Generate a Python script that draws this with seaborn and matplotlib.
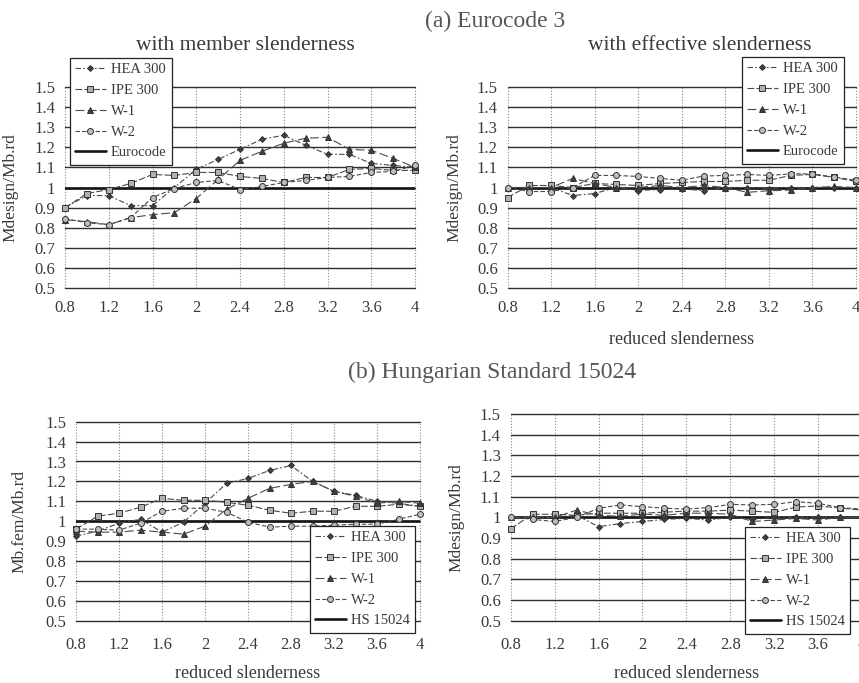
import matplotlib
matplotlib.use("Agg")
import matplotlib.pyplot as plt
import pandas as pd
import seaborn as sns

# ---------------- data ----------------
slenderness = [0.8, 1.0, 1.2, 1.4, 1.6, 1.8, 2.0, 2.2, 2.4, 2.6, 2.8, 3.0, 3.2, 3.4, 3.6, 3.8, 4.0]
series_names = ["HEA 300", "IPE 300", "W-1", "W-2"]

# (a) Eurocode 3 - member slenderness
hea_a1 = [0.90, 0.96, 0.96, 0.91, 0.91, 1.00, 1.09, 1.14, 1.19, 1.24, 1.26, 1.21, 1.165, 1.165, 1.12, 1.11, 1.10]
ipe_a1 = [0.90, 0.97, 0.99, 1.02, 1.065, 1.06, 1.075, 1.075, 1.055, 1.045, 1.025, 1.05, 1.05, 1.09, 1.095, 1.085, 1.085]
w1_a1 = [0.84, 0.83, 0.815, 0.85, 0.865, 0.875, 0.945, 1.04, 1.135, 1.18, 1.22, 1.245, 1.25, 1.19, 1.185, 1.145, 1.10]
w2_a1 = [0.845, 0.825, 0.815, 0.85, 0.95, 0.995, 1.025, 1.035, 0.99, 1.005, 1.025, 1.035, 1.05, 1.055, 1.075, 1.08, 1.11]

# (a) Eurocode 3 - effective slenderness
hea_a2 = [1.0, 1.0, 1.0, 0.96, 0.97, 1.0, 0.985, 0.99, 0.992, 0.985, 1.0, 1.0, 0.995, 1.0, 1.0, 1.0, 1.0]
ipe_a2 = [0.95, 1.01, 1.01, 1.0, 1.02, 1.015, 1.01, 1.02, 1.025, 1.03, 1.03, 1.036, 1.036, 1.06, 1.065, 1.05, 1.03]
w1_a2 = [1.0, 1.0, 1.0, 1.045, 1.02, 1.0, 1.0, 1.01, 1.0, 1.01, 1.0, 0.976, 0.984, 0.987, 1.0, 1.005, 1.0]
w2_a2 = [1.0, 0.98, 0.98, 1.0, 1.06, 1.06, 1.055, 1.045, 1.036, 1.057, 1.06, 1.065, 1.06, 1.068, 1.068, 1.052, 1.036]

# (b) Hungarian Standard 15024 - member slenderness
hea_b1 = [0.925, 0.95, 0.99, 1.01, 0.945, 0.995, 1.09, 1.19, 1.215, 1.255, 1.28, 1.20, 1.15, 1.13, 1.10, 1.09, 1.075]
ipe_b1 = [0.96, 1.025, 1.04, 1.07, 1.115, 1.105, 1.105, 1.095, 1.08, 1.055, 1.04, 1.05, 1.05, 1.075, 1.075, 1.085, 1.075]
w1_b1 = [0.95, 0.945, 0.945, 0.955, 0.945, 0.935, 0.975, 1.06, 1.115, 1.165, 1.185, 1.20, 1.15, 1.125, 1.09, 1.10, 1.09]
w2_b1 = [0.96, 0.96, 0.955, 0.99, 1.05, 1.065, 1.065, 1.045, 0.995, 0.97, 0.975, 0.975, 0.98, 0.985, 0.985, 1.01, 1.035]

# (b) Hungarian Standard 15024 - effective slenderness
hea_b2 = [1.0, 1.0, 1.0, 1.01, 0.955, 0.97, 0.98, 0.99, 0.995, 0.987, 1.0, 0.99, 1.0, 1.0, 1.0, 1.0, 1.0]
ipe_b2 = [0.945, 1.015, 1.015, 1.01, 1.02, 1.02, 1.02, 1.025, 1.03, 1.03, 1.035, 1.03, 1.024, 1.05, 1.055, 1.045, 1.035]
w1_b2 = [1.0, 1.0, 1.0, 1.035, 1.01, 1.005, 1.016, 1.01, 1.02, 1.02, 1.015, 0.98, 0.987, 0.995, 0.987, 1.0, 1.0]
w2_b2 = [1.003, 0.99, 0.98, 1.0, 1.044, 1.06, 1.052, 1.044, 1.04, 1.047, 1.063, 1.06, 1.063, 1.076, 1.068, 1.047, 1.04]

ref_level = 1.0
ref_labels = ["Eurocode", "HS 15024"]

x_ticks = [0.8, 1.2, 1.6, 2.0, 2.4, 2.8, 3.2, 3.6, 4.0]
x_tick_labels = ["0.8", "1.2", "1.6", "2", "2.4", "2.8", "3.2", "3.6", "4"]
y_ticks = [0.5, 0.6, 0.7, 0.8, 0.9, 1.0, 1.1, 1.2, 1.3, 1.4, 1.5]
y_tick_labels = ["0.5", "0.6", "0.7", "0.8", "0.9", "1", "1.1", "1.2", "1.3", "1.4", "1.5"]

section_titles = ["(a) Eurocode 3", "(b) Hungarian Standard 15024"]
subtitles = ["with member slenderness", "with effective slenderness"]
x_label = "reduced slenderness"
y_label_design = "Mdesign/Mb.rd"
y_label_fem = "Mb.fem/Mb.rd"

# ---------------- style ----------------
sns.set_theme(style="white")
plt.rcParams["font.family"] = ["Liberation Serif", "DejaVu Serif"]
TEXT = "#3a3a3a"
LINE = "#4a4a4a"
plt.rcParams["text.color"] = TEXT
plt.rcParams["axes.labelcolor"] = TEXT
plt.rcParams["xtick.color"] = TEXT
plt.rcParams["ytick.color"] = TEXT

marker_map = {"HEA 300": "D", "IPE 300": "s", "W-1": "^", "W-2": "o"}
dash_map = {"HEA 300": (5, 2, 1.5, 2), "IPE 300": (6, 2), "W-1": (8, 3), "W-2": (4, 2)}
face_map = {"D": "#404040", "s": "#b0b0b0", "^": "#404040", "o": "#bdbdbd"}
size_map = {"D": 3.0, "s": 4.3, "^": 4.2, "o": 4.3}

W, H = 859.0, 683.0
fig = plt.figure(figsize=(W / 100, H / 100), dpi=100)


def rect(left, right, top, bottom):
    return [left / W, 1 - bottom / H, (right - left) / W, (bottom - top) / H]


def make_df(values):
    rows = []
    for name, vals in zip(series_names, values):
        for xv, yv in zip(slenderness, vals):
            rows.append((name, xv, yv))
    return pd.DataFrame(rows, columns=["series", "x", "y"])


def style_line(line):
    m = line.get_marker()
    if m in face_map:
        line.set_markerfacecolor(face_map[m])
        line.set_markeredgecolor("#333333")
        line.set_markersize(size_map[m])
        line.set_markeredgewidth(0.7)
    line.set_color(LINE)
    line.set_linewidth(0.8)


def draw_panel(box, values, ref_label, ylabel, ylabel_x, legend_xy, show_xlabel, xlabel_y, tick_pad):
    ax = fig.add_axes(rect(*box))
    df = make_df(values)
    sns.lineplot(
        data=df, x="x", y="y", hue="series", style="series",
        hue_order=series_names, style_order=series_names,
        palette=dict.fromkeys(series_names, LINE),
        markers=marker_map, dashes=dash_map,
        linewidth=0.8, markeredgecolor="#333333", markeredgewidth=0.7,
        errorbar=None, ax=ax, clip_on=False, zorder=3, legend=True,
    )
    for ln in ax.lines:
        style_line(ln)

    leg = ax.get_legend()
    handles = list(leg.legend_handles)
    labels = [t.get_text() for t in leg.texts]
    for h, name in zip(handles, labels):
        h.set_marker(marker_map[name])
        h.set_dashes(dash_map[name])
        style_line(h)
    leg.remove()

    ref = ax.axhline(ref_level, color="#151515", lw=1.9, zorder=2.5, label=ref_label)

    ax.set_xlim(0.8, 4.0)
    ax.set_ylim(0.5, 1.5)
    ax.set_xticks(x_ticks)
    ax.set_xticklabels(x_tick_labels)
    ax.set_yticks(y_ticks)
    ax.set_yticklabels(y_tick_labels)
    ax.tick_params(axis="both", length=0, labelsize=12)
    ax.tick_params(axis="x", pad=tick_pad)
    ax.tick_params(axis="y", pad=7)
    for s in ax.spines.values():
        s.set_visible(False)
    ax.set_axisbelow(True)
    ax.yaxis.grid(True, color="#2e2e2e", lw=1.0, ls="-")
    ax.xaxis.grid(True, color="#8a8a8a", lw=0.8, ls=(0, (1, 1.6)))
    for gl in ax.get_xgridlines() + ax.get_ygridlines():
        gl.set_clip_on(False)

    ax.set_ylabel(ylabel, fontsize=12.5)
    ax.yaxis.set_label_coords(ylabel_x, 0.5)
    if show_xlabel:
        ax.set_xlabel(x_label, fontsize=13)
        ax.xaxis.set_label_coords(0.5, xlabel_y)
        ax.xaxis.label.set_va("center")
    else:
        ax.set_xlabel("")

    lg = ax.legend(
        handles + [ref], labels + [ref_label],
        loc="upper left", bbox_to_anchor=(legend_xy[0] / W, 1 - legend_xy[1] / H),
        bbox_transform=fig.transFigure, frameon=True, fancybox=False,
        edgecolor="#222222", framealpha=1.0, facecolor="white", fontsize=10.5,
        handlelength=2.1, handletextpad=0.35, borderpad=0.35, labelspacing=0.52,
        borderaxespad=0.0,
    )
    lg.get_frame().set_linewidth(0.9)
    lg.set_zorder(10)
    return ax


# panel boxes: left, right, top, bottom (pixels)
box_tl = (65, 415, 87, 288)
box_tr = (507.5, 856, 87, 288)
box_bl = (76, 420, 421.7, 620.7)
box_br = (510.7, 862, 414, 620.7)

draw_panel(box_tl, [hea_a1, ipe_a1, w1_a1, w2_a1], ref_labels[0], y_label_design,
           (18 - 65) / 350, (70, 58), False, 0, 9)
draw_panel(box_tr, [hea_a2, ipe_a2, w1_a2, w2_a2], ref_labels[0], y_label_design,
           (462 - 507.5) / 348.5, (742, 57), True, -(340 - 288) / 201, 9)
draw_panel(box_bl, [hea_b1, ipe_b1, w1_b1, w2_b1], ref_labels[1], y_label_fem,
           (27 - 76) / 344, (310, 526), True, -(673 - 620.7) / 199, 12)
draw_panel(box_br, [hea_b2, ipe_b2, w1_b2, w2_b2], ref_labels[1], y_label_design,
           (464 - 510.7) / 351.3, (745, 527), True, -(673 - 620.7) / 206.7, 12)

fig.text(495 / W, 1 - 21 / H, section_titles[0], ha="center", va="center", fontsize=17, color="#555555")
fig.text(492 / W, 1 - 372 / H, section_titles[1], ha="center", va="center", fontsize=17, color="#555555")
fig.text(245 / W, 1 - 46 / H, subtitles[0], ha="center", va="center", fontsize=15.5, color=TEXT)
fig.text(700 / W, 1 - 46 / H, subtitles[1], ha="center", va="center", fontsize=15.5, color=TEXT)

fig.savefig("out.png", dpi=100)
